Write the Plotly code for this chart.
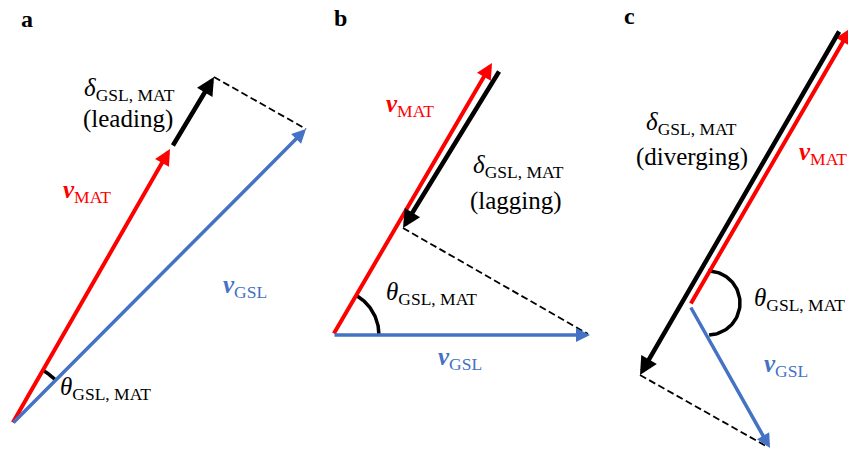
import numpy as np
import plotly.graph_objects as go

# ---- diagram geometry (canvas units: x right, y down) ----
# vectors: name, tail x, tail y, head x, head y, colour, width
vec_names = ["a_vMAT", "a_delta", "a_vGSL",
             "b_vMAT", "b_delta", "b_vGSL",
             "c_vMAT", "c_delta", "c_vGSL"]
vec_tail_x = [12, 172, 12, 333, 500, 333, 690, 840, 690]
vec_tail_y = [424, 147, 424, 335, 70, 335, 305, 30, 306]
vec_head_x = [170, 214, 306, 492, 403, 590, 851, 640, 770]
vec_head_y = [149, 77, 129, 63, 228, 335, 28, 375, 448]
vec_color = ["#FF0000", "#000000", "#4472C4",
             "#FF0000", "#000000", "#4472C4",
             "#FF0000", "#000000", "#4472C4"]
vec_width = [4, 4.5, 3.5, 4, 4.5, 3.5, 4, 4.5, 3.5]

# dashed connectors
dash_x0 = [214, 403, 640]
dash_y0 = [77, 228, 375]
dash_x1 = [306, 588, 766]
dash_y1 = [129, 334, 446]

# angle arcs: centre x, centre y, radius, start deg, end deg
arc_cx = [12, 333, 708]
arc_cy = [424, 335, 303]
arc_r = [62, 46, 32]
arc_a0 = [45, 0, -88]
arc_a1 = [60, 59.7, 90]

# labels: text, left x, baseline y, colour
lab_text = [
    "<i>δ</i><sub>GSL, MAT</sub>", "(leading)",
    "<b><i>v</i></b><sub>MAT</sub>", "<b><i>v</i></b><sub>GSL</sub>",
    "<i>θ</i><sub>GSL, MAT</sub>",
    "<b><i>v</i></b><sub>MAT</sub>", "<i>δ</i><sub>GSL, MAT</sub>", "(lagging)",
    "<i>θ</i><sub>GSL, MAT</sub>", "<b><i>v</i></b><sub>GSL</sub>",
    "<i>δ</i><sub>GSL, MAT</sub>", "(diverging)",
    "<b><i>v</i></b><sub>MAT</sub>", "<i>θ</i><sub>GSL, MAT</sub>",
    "<b><i>v</i></b><sub>GSL</sub>",
]
lab_x = [82, 81, 61, 221, 58, 384, 471, 468, 384, 436, 644, 634, 797, 752, 762]
lab_y = [97, 126, 199, 294, 396, 113, 174, 208, 301, 366, 131, 164, 161, 307, 373]
lab_color = ["#000000", "#000000", "#FF0000", "#4472C4", "#000000",
             "#FF0000", "#000000", "#000000", "#000000", "#4472C4",
             "#000000", "#000000", "#FF0000", "#000000", "#4472C4"]

panel_letters = ["a", "b", "c"]
panel_x = [19, 332, 622]
panel_y = [26, 25, 23]

FONT = "Times New Roman, Liberation Serif, serif"
FS = 25

fig = go.Figure()

# arcs
for cx, cy, r, a0, a1 in zip(arc_cx, arc_cy, arc_r, arc_a0, arc_a1):
    t = np.radians(np.linspace(a0, a1, 60))
    fig.add_trace(go.Scatter(x=cx + r * np.cos(t), y=cy - r * np.sin(t),
                             mode="lines", line=dict(color="black", width=3.5),
                             hoverinfo="skip", showlegend=False))

# dashed lines
for x0, y0, x1, y1 in zip(dash_x0, dash_y0, dash_x1, dash_y1):
    fig.add_trace(go.Scatter(x=[x0, x1], y=[y0, y1], mode="lines",
                             line=dict(color="black", width=1.8, dash="7px,3.5px"),
                             hoverinfo="skip", showlegend=False))

annotations = []
# vectors as arrows
for tx, ty, hx, hy, c, w in zip(vec_tail_x, vec_tail_y, vec_head_x, vec_head_y, vec_color, vec_width):
    annotations.append(dict(x=hx, y=hy, ax=tx, ay=ty, xref="x", yref="y",
                            axref="x", ayref="y", text="", showarrow=True,
                            arrowhead=2, arrowsize=0.8, arrowwidth=w,
                            arrowcolor=c, standoff=0, startstandoff=0))

# labels
for txt, x, y, c in zip(lab_text, lab_x, lab_y, lab_color):
    annotations.append(dict(x=x, y=y - 0.3 * FS, xref="x", yref="y", text=txt,
                            showarrow=False, xanchor="left", yanchor="middle",
                            font=dict(family=FONT, size=FS, color=c)))

for t, x, y in zip(panel_letters, panel_x, panel_y):
    annotations.append(dict(x=x, y=y - 7, xref="x", yref="y", text="<b>%s</b>" % t,
                            showarrow=False, xanchor="left", yanchor="middle",
                            font=dict(family=FONT, size=24, color="black")))

fig.update_layout(
    width=848, height=450,
    margin=dict(l=0, r=0, t=0, b=0),
    paper_bgcolor="white", plot_bgcolor="white",
    font=dict(family=FONT),
    xaxis=dict(range=[0, 848], visible=False, fixedrange=True),
    yaxis=dict(range=[450, 0], visible=False, fixedrange=True),
    annotations=annotations,
    showlegend=False,
)

fig.write_html("out.html", config={"displayModeBar": False},
               post_script="document.body.style.margin='0px';document.body.style.overflow='hidden';")
